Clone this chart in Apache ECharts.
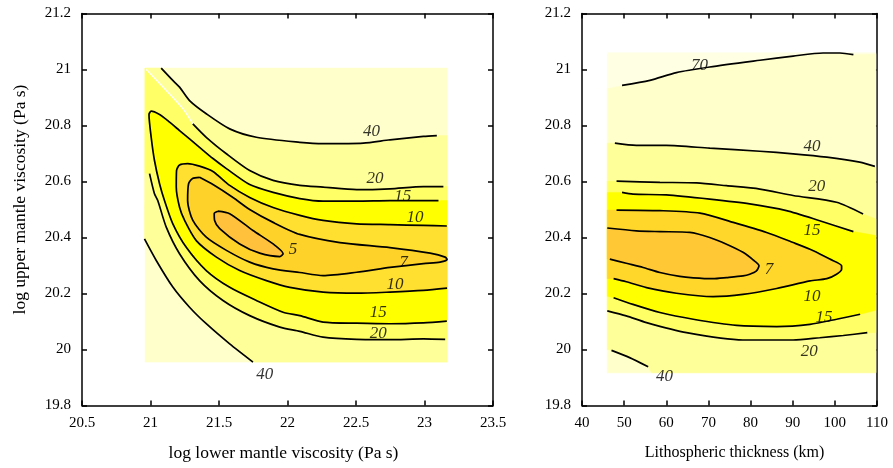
<!DOCTYPE html>
<html><head><meta charset="utf-8">
<script src="https://cdn.jsdelivr.net/npm/echarts@6/dist/echarts.min.js"></script>
<style>html,body{margin:0;padding:0;background:#fff}#c{width:893px;height:468px}</style>
</head><body><div id="c"></div>
<script>
// ---------- LEFT PANEL DATA (log lower mantle viscosity vs log upper mantle viscosity) ----------
const L_xRange = [20.5, 23.5, 0.5];
const L_yRange = [19.8, 21.2, 0.2];
const L_domain = [[20.96, 19.955], [23.165, 21.005]];
const L_c40_upper = [[21.078,21.005],[21.163,20.961],[21.212,20.937],[21.285,20.889],[21.407,20.842],[21.578,20.788],[21.773,20.758],[22.09,20.740],[22.26,20.735],[22.553,20.737],[22.748,20.749],[22.992,20.761],[23.09,20.764]];
const L_c20_upper = [[21.309,20.806],[21.407,20.758],[21.554,20.699],[21.724,20.639],[21.895,20.604],[22.09,20.586],[22.26,20.580],[22.505,20.571],[22.748,20.574],[22.992,20.582],[23.138,20.582]];
const L_fill20_edge = [[20.969,21.0],[21.115,20.925],[21.236,20.86],[21.309,20.806]];
const L_c15 = [[23.102,20.532],[22.748,20.532],[22.505,20.530],[22.26,20.530],[22.09,20.539],[21.895,20.561],[21.724,20.589],[21.554,20.646],[21.456,20.682],[21.358,20.722],[21.212,20.782],[21.124,20.818],[21.066,20.839],[21.005,20.851],[20.989,20.839],[21.005,20.758],[21.029,20.675],[21.066,20.592],[21.102,20.532],[21.163,20.449],[21.261,20.365],[21.407,20.282],[21.578,20.222],[21.773,20.175],[21.968,20.133],[22.09,20.121],[22.26,20.098],[22.505,20.094],[22.748,20.092],[22.992,20.095],[23.163,20.101]];
const L_c10 = [[23.163,20.441],[22.992,20.443],[22.748,20.446],[22.505,20.449],[22.26,20.461],[22.09,20.479],[21.895,20.507],[21.724,20.543],[21.578,20.586],[21.456,20.636],[21.358,20.655],[21.271,20.664],[21.212,20.659],[21.19,20.639],[21.188,20.580],[21.212,20.508],[21.249,20.461],[21.334,20.389],[21.481,20.330],[21.651,20.282],[21.846,20.246],[22.017,20.222],[22.26,20.205],[22.505,20.201],[22.748,20.205],[22.992,20.211],[23.165,20.219]];
const L_c7 = [[21.358,20.615],[21.456,20.589],[21.602,20.543],[21.724,20.500],[21.895,20.454],[22.09,20.411],[22.383,20.382],[22.748,20.364],[23.041,20.344],[23.151,20.330],[23.165,20.321],[23.114,20.312],[22.992,20.307],[22.748,20.293],[22.505,20.276],[22.26,20.264],[22.09,20.275],[21.895,20.288],[21.724,20.312],[21.554,20.354],[21.407,20.401],[21.309,20.461],[21.271,20.532],[21.278,20.592],[21.307,20.611],[21.358,20.615]];
const L_c5 = [[21.492,20.494],[21.578,20.485],[21.748,20.425],[21.895,20.377],[21.968,20.342],[21.944,20.332],[21.797,20.344],[21.651,20.377],[21.505,20.432],[21.468,20.461],[21.465,20.486],[21.492,20.494]];
const L_c20_lower = [[20.993,20.628],[21.029,20.556],[21.053,20.532],[21.115,20.437],[21.212,20.342],[21.358,20.246],[21.529,20.175],[21.724,20.121],[21.944,20.080],[22.09,20.065],[22.26,20.044],[22.505,20.036],[22.748,20.035],[22.992,20.038],[23.151,20.036]];
const L_c40_lower = [[20.956,20.395],[21.042,20.318],[21.163,20.223],[21.285,20.151],[21.407,20.092],[21.578,20.020],[21.748,19.955]];
const L_labels = [[22.614,20.779,'40'],[22.639,20.612,'20'],[22.841,20.546,'15'],[22.931,20.473,'10'],[22.041,20.356,'5'],[22.846,20.312,'7'],[22.785,20.231,'10'],[22.663,20.133,'15'],[22.663,20.056,'20'],[21.834,19.911,'40']];

// ---------- RIGHT PANEL DATA (lithospheric thickness vs log upper mantle viscosity) ----------
const R_xRange = [40, 110, 10];
const R_yRange = [19.8, 21.2, 0.2];
const R_domain = [[46, 19.917], [109.7, 21.06]];
const R_c70 = [[49.5,20.943],[56.1,20.961],[62.4,20.989],[70.3,21.009],[82.2,21.033],[90.1,21.048],[97.2,21.059],[101.2,21.059],[104.4,21.053]];
const R_c40_upper = [[47.8,20.737],[52.9,20.729],[60.0,20.729],[70.3,20.719],[82.2,20.708],[90.1,20.699],[98.1,20.687],[105.9,20.669],[109.5,20.654]];
const R_c20_upper = [[48.2,20.601],[58.5,20.597],[67.2,20.595],[74.3,20.585],[82.2,20.573],[90.1,20.550],[100.4,20.526],[106.7,20.484]];
const R_c15_upper = [[49.5,20.561],[52.1,20.555],[60.0,20.552],[70.3,20.537],[79.8,20.520],[88.5,20.496],[96.4,20.460],[104.4,20.421]];
const R_c10 = [[48.2,20.498],[58.5,20.496],[68.0,20.487],[75.9,20.454],[83.8,20.418],[90.1,20.382],[94.9,20.353],[98.8,20.323],[101.6,20.299],[101.6,20.287],[100.4,20.269],[98.1,20.253],[94.1,20.245],[86.2,20.218],[78.2,20.197],[71.1,20.189],[62.4,20.201],[55.3,20.221],[50.5,20.242],[47.5,20.253]];
const R_c7 = [[46.0,20.434],[52.9,20.424],[58.5,20.421],[65.6,20.418],[70.3,20.400],[74.3,20.376],[78.2,20.347],[80.6,20.320],[82.0,20.299],[81.4,20.281],[79.8,20.269],[78.2,20.263],[74.3,20.257],[71.1,20.253],[66.4,20.256],[63.2,20.261],[58.5,20.275],[54.5,20.293],[50.5,20.308],[46.6,20.323]];
const R_c15_lower = [[47.5,20.185],[52.1,20.161],[58.5,20.132],[66.4,20.108],[76.7,20.086],[86.2,20.082],[94.1,20.090],[100.4,20.108],[106.0,20.126]];
const R_c20_lower = [[46.0,20.138],[50.5,20.120],[55.3,20.096],[64.8,20.060],[78.2,20.034],[90.1,20.034],[96.4,20.042],[102.0,20.050],[107.7,20.060]];
const R_c40_lower = [[47.0,19.997],[51.3,19.971],[55.7,19.938]];
const R_labels = [[67.9,21.015,'70'],[94.6,20.725,'40'],[95.7,20.582,'20'],[94.6,20.426,'15'],[84.4,20.287,'7'],[94.6,20.188,'10'],[97.4,20.114,'15'],[93.9,19.991,'20'],[59.6,19.903,'40']];

// ---------- fill polygons built from the contours + domain edges ----------
const rev = a => a.slice().reverse();
function rect(d){return [[d[0][0],d[0][1]],[d[1][0],d[0][1]],[d[1][0],d[1][1]],[d[0][0],d[1][1]]];}
const lx0 = L_domain[0][0], lx1 = L_domain[1][0], ly0 = L_domain[0][1], ly1 = L_domain[1][1];
const L_polys = [
  rect(L_domain),
  [[lx0,ly1]].concat(L_c40_upper,[[lx1,20.764],[lx1,ly0]],rev(L_c40_lower)),
  [[lx0,ly1]].concat(L_fill20_edge,L_c20_upper,[[lx1,20.582],[lx1,20.036]],rev(L_c20_lower),[[lx0,20.63]]),
  [[lx1,20.532]].concat(L_c15,[[lx1,20.101]]),
  [[lx1,20.441]].concat(L_c10,[[lx1,20.219]]),
  L_c7,
  L_c5
];
const L_colors = ['#FFFFCC','#FFFF99','#FFFF66','#FFFF00','#FFE030','#FFD22A','#FFC13C'];

const rx0 = R_domain[0][0], rx1 = R_domain[1][0], ry0 = R_domain[0][1], ry1 = R_domain[1][1];
const R_polys = [
  rect(R_domain),
  [[rx0,20.931]].concat(R_c70,[[rx1,21.055],[rx1,ry0],[rx0,ry0]]),
  [[rx0,20.737]].concat(R_c40_upper,[[rx1,20.654],[rx1,ry0],[56.5,ry0]],rev(R_c40_lower),[[rx0,20.0]]),
  [[rx0,20.601]].concat(R_c20_upper,[[rx1,20.466],[rx1,20.06]],rev(R_c20_lower)),
  [[rx0,20.561]].concat(R_c15_upper,[[rx1,20.407],[rx1,20.14]],rev(R_c15_lower),[[rx0,20.19]]),
  [[rx0,20.498]].concat(R_c10,[[rx0,20.253]]),
  R_c7.concat([[rx0,20.323]])
];
const R_colors = ['#FFFFE4','#FFFFCC','#FFFF99','#FFFF66','#FFFF00','#FFD62A','#FFC834'];

// ---------- chart ----------
const FONT = 'Liberation Serif';
function fillSeries(polys, colors, gi){
  return {type:'custom', xAxisIndex:gi*2, yAxisIndex:gi*2, z:1, clip:false, silent:true,
    encode:{x:0,y:1},
    data: polys.map((p,i)=>[p[0][0],p[0][1],i]),
    renderItem:(params,api)=>{
      const i = api.value(2);
      return {type:'polygon', shape:{points: polys[i].map(pt=>api.coord(pt))}, style:{fill: colors[i], stroke: colors[i], lineWidth:0.5}};
    }};
}
function lineSeries(d, gi, color, width){
  return {type:'line', xAxisIndex:gi*2, yAxisIndex:gi*2, z:3, data:d, symbol:'none', smooth:0.25, silent:true,
    lineStyle:{color:color||'#000', width:width||1.7}};
}
function labelSeries(labels, gi){
  return {type:'scatter', xAxisIndex:gi*2, yAxisIndex:gi*2, z:5, symbolSize:1, silent:true,
    itemStyle:{color:'rgba(0,0,0,0)'},
    data: labels.map(l=>({value:[l[0],l[1]], name:l[2]})),
    label:{show:true, position:'inside', formatter:p=>p.name, color:'#000', fontFamily:FONT, fontStyle:'italic', fontSize:17}};
}
const axisLine = {show:true, onZero:false, lineStyle:{color:'#000', width:1.5}};
const tick = {show:true, inside:true, length:5, lineStyle:{color:'#000', width:1.5}};
const tickLabel = {color:'#000', fontFamily:FONT, fontSize:15};
function xAx(gi, r, name, pad, fs){
  return [
    {type:'value', gridIndex:gi, min:r[0], max:r[1], interval:r[2], position:'bottom', axisLine, axisTick:tick,
     axisLabel:Object.assign({margin:10}, tickLabel), splitLine:{show:false},
     name, nameLocation:'middle', nameGap:39, nameTextStyle:{color:'#000', fontFamily:FONT, fontSize:fs, padding:pad}},
    {type:'value', gridIndex:gi, min:r[0], max:r[1], interval:r[2], position:'top', axisLine, axisTick:tick,
     axisLabel:{show:false}, splitLine:{show:false}}
  ];
}
function yAx(gi, r, name){
  const a = [
    {type:'value', gridIndex:gi, min:r[0], max:r[1], interval:r[2], position:'left', axisLine, axisTick:tick,
     axisLabel:Object.assign({margin:11}, tickLabel), splitLine:{show:false}},
    {type:'value', gridIndex:gi, min:r[0], max:r[1], interval:r[2], position:'right', axisLine, axisTick:tick,
     axisLabel:{show:false}, splitLine:{show:false}}
  ];
  if (name) Object.assign(a[0], {name, nameLocation:'middle', nameGap:53,
     nameTextStyle:{color:'#000', fontFamily:FONT, fontSize:17.5, padding:[0,0,0,20]}});
  return a;
}
const chart = echarts.init(document.getElementById('c'), null, {renderer:'canvas'});
chart.setOption({
  animation:false,
  backgroundColor:'#fff',
  grid:[{left:82, top:13.5, width:411, height:392}, {left:582, top:13.5, width:295, height:392}],
  xAxis: xAx(0, L_xRange, 'log lower mantle viscosity (Pa s)', [0,8,0,0], 17.5).concat(xAx(1, R_xRange, 'Lithospheric thickness (km)', [0,0,0,10], 16)),
  yAxis: yAx(0, L_yRange, 'log upper mantle viscosity (Pa s)').concat(yAx(1, R_yRange, null)),
  series: [
    fillSeries(L_polys, L_colors, 0),
    lineSeries(L_fill20_edge, 0, '#FFFFFF', 1.3),
    ...[L_c40_upper, L_c20_upper, L_c15, L_c10, L_c7, L_c5, L_c20_lower, L_c40_lower].map(d=>lineSeries(d,0)),
    labelSeries(L_labels, 0),
    fillSeries(R_polys, R_colors, 1),
    ...[R_c70, R_c40_upper, R_c20_upper, R_c15_upper, R_c10, R_c7, R_c15_lower, R_c20_lower, R_c40_lower].map(d=>lineSeries(d,1)),
    labelSeries(R_labels, 1)
  ]
});
</script></body></html>
